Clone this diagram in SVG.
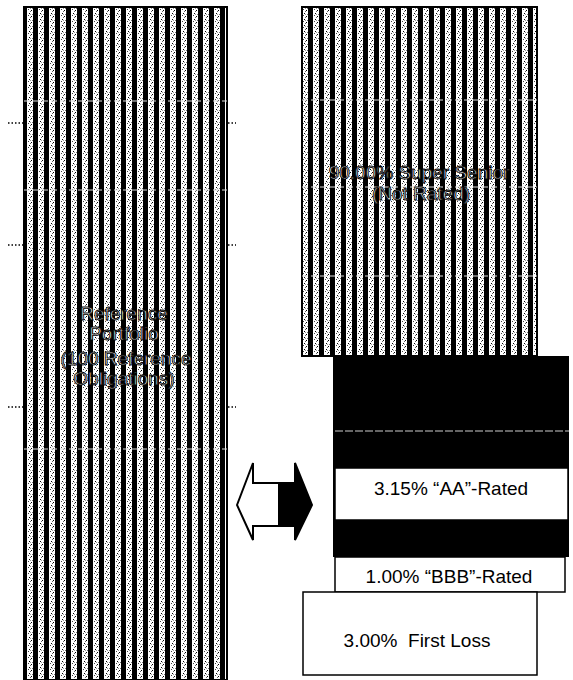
<svg xmlns="http://www.w3.org/2000/svg" width="573" height="680" viewBox="0 0 573 680">
<style>
.lbl{font-family:"Liberation Sans",Arial,sans-serif;font-size:19px;fill:#000;text-anchor:middle}
.olbl{font-family:"Liberation Sans",Arial,sans-serif;font-size:19px;fill:#fff;stroke:#000;stroke-width:0.9;text-anchor:middle}
.box{fill:#fff;stroke:#000;stroke-width:1.5}
.wdash{stroke:#ddd;stroke-width:1;stroke-dasharray:6 3}
.dots{stroke:#000;stroke-width:1.5;stroke-dasharray:1.5 2}
</style>
<defs>
<pattern id="stripe" patternUnits="userSpaceOnUse" width="11" height="6">
<rect width="11" height="6" fill="#fff"/>
<rect width="5" height="6" fill="#000"/>
<rect x="7" y="1" width="1" height="1" fill="#000"/>
<rect x="9" y="4" width="1" height="1" fill="#000"/>
<rect x="6" y="3" width="1" height="1" fill="#444"/>
<rect x="8" y="5" width="1" height="1" fill="#666"/>
<rect x="10" y="2" width="1" height="1" fill="#777"/>
<rect x="8" y="2" width="1" height="1" fill="#999"/>
</pattern>
</defs>
<g id="portfolio">
<rect x="24" y="7" width="203" height="673" fill="url(#stripe)" stroke="#000" stroke-width="2"/>
<line class="wdash" x1="24" y1="101" x2="227" y2="101"/>
<line class="wdash" x1="24" y1="190" x2="227" y2="190"/>
<line class="wdash" x1="24" y1="449" x2="227" y2="449"/>
<line class="dots" x1="8" y1="123" x2="23" y2="123"/>
<line class="dots" x1="228" y1="123" x2="236" y2="123"/>
<line class="dots" x1="8" y1="245" x2="23" y2="245"/>
<line class="dots" x1="228" y1="245" x2="236" y2="245"/>
<line class="dots" x1="8" y1="407" x2="23" y2="407"/>
<line class="dots" x1="228" y1="407" x2="236" y2="407"/>
<text class="olbl" x="124" y="320">Reference</text>
<text class="olbl" x="124" y="340">Portfolio</text>
<text class="olbl" x="126" y="365">(100 Reference</text>
<text class="olbl" x="124" y="385">Obligations)</text>
</g>
<g id="super-senior">
<rect x="302" y="7" width="235" height="349" fill="url(#stripe)" stroke="#000" stroke-width="2"/>
<line class="wdash" x1="302" y1="100" x2="537" y2="100"/>
<line class="wdash" x1="302" y1="187" x2="537" y2="187"/>
<line class="wdash" x1="302" y1="276" x2="537" y2="276"/>
<text class="olbl" x="419" y="179">90.00% Super Senior</text>
<text class="olbl" x="421" y="200">(Not Rated)</text>
</g>
<g id="black-tiers">
<rect x="333" y="356" width="236" height="201" fill="#000"/>
<line x1="335" y1="431" x2="569" y2="431" stroke="#ccc" stroke-width="1.2" stroke-dasharray="8 2"/>
</g>
<g id="aa-tier">
<rect class="box" x="335" y="468" width="233" height="52"/>
<text class="lbl" x="451" y="495">3.15% “AA”-Rated</text>
</g>
<g id="bbb-tier">
<rect class="box" x="335" y="557" width="230" height="35"/>
<text class="lbl" x="449" y="583">1.00% “BBB”-Rated</text>
</g>
<g id="first-loss">
<rect class="box" x="303" y="592" width="234" height="83"/>
<text class="lbl" x="417" y="647" xml:space="preserve">3.00%  First Loss</text>
</g>
<g id="connectors">
<polygon points="237,505 253,463 253,483 279,483 279,526 253,526 253,540" fill="#fff" stroke="#000" stroke-width="2" stroke-linejoin="miter"/>
<polygon points="279,483 295,483 295,463 312,505 295,540 295,526 279,526" fill="#000" stroke="#000" stroke-width="2"/>
</g>
</svg>
